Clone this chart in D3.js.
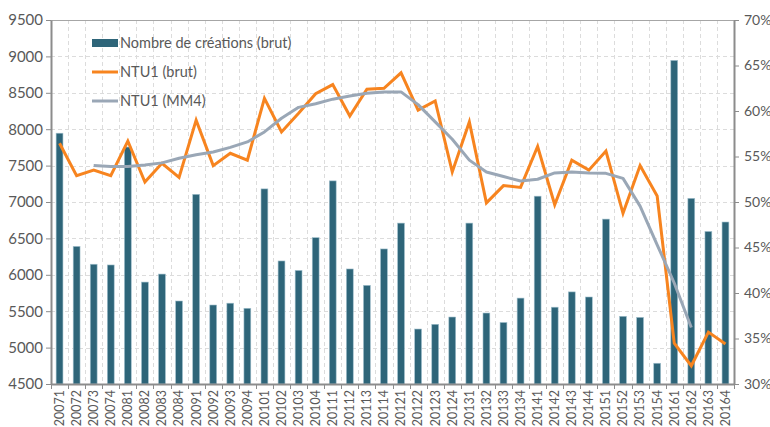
<!DOCTYPE html>
<html>
<head>
<meta charset="utf-8">
<script src="https://cdn.jsdelivr.net/npm/d3@7"></script>
<style>
    body { margin: 0; background: #ffffff; }
    svg { display: block; }
</style>
</head>
<body>
<svg id="chart" width="770" height="427"></svg>
<script>

const quarters = ["20071", "20072", "20073", "20074", "20081", "20082", "20083", "20084",
    "20091", "20092", "20093", "20094", "20101", "20102", "20103", "20104",
    "20111", "20112", "20113", "20114", "20121", "20122", "20123", "20124",
    "20131", "20132", "20133", "20134", "20141", "20142", "20143", "20144",
    "20151", "20152", "20153", "20154", "20161", "20162", "20163", "20164"];

// Nombre de créations (brut)
const creations = [7945, 6390, 6145, 6135, 7755, 5900, 6010, 5640,
    7105, 5585, 5610, 5540, 7180, 6190, 6060, 6510,
    7290, 6080, 5855, 6355, 6710, 5255, 5320, 5420,
    6710, 5475, 5345, 5680, 7080, 5555, 5765, 5695,
    6765, 5430, 5415, 4785, 8945, 7050, 6595, 6725];

// NTU1 (brut), in %
const ntuBrut = [56.45, 52.9, 53.5, 52.9, 56.7, 52.2, 54.25, 52.7,
    59.0, 54.0, 55.35, 54.6, 61.4, 57.7, 59.75, 61.9,
    62.9, 59.45, 62.4, 62.5, 64.2, 60.1, 61.1, 53.3,
    58.8, 49.9, 51.8, 51.6, 56.1, 49.7, 54.6, 53.5,
    55.6, 48.75, 54.0, 50.65, 34.5, 32.0, 35.7, 34.4];

// NTU1 (MM4), centred average: from 20073 to 20162
const ntuMM4Quarters = quarters.slice(2, 38);
const ntuMM4 = [54.0, 53.9, 53.9, 54.07, 54.3, 54.8, 55.2, 55.5,
    56.0, 56.6, 57.7, 59.2, 60.4, 60.8, 61.3, 61.65,
    61.95, 62.1, 62.1, 60.7, 58.8, 56.9, 54.6, 53.3,
    52.8, 52.3, 52.5, 53.2, 53.3, 53.2, 53.15, 52.6,
    49.55, 45.3, 41.1, 36.2];

const leftTicks = [4500, 5000, 5500, 6000, 6500, 7000, 7500, 8000, 8500, 9000, 9500];
const rightTicks = [30, 35, 40, 45, 50, 55, 60, 65, 70];

const legendItems = [
    {name: "Nombre de créations (brut)", type: "bar"},
    {name: "NTU1 (brut)", type: "brut"},
    {name: "NTU1 (MM4)", type: "mm4"}
];

const barColor = "#2e6579";
const orange = "#f7841f";
const grey = "#9aa7b6";
const axisColor = "#8c8c8c";
const textColor = "#595959";
const fontFamily = "Lato, 'Open Sans', sans-serif";

const plot = {left: 51, right: 734, top: 20, bottom: 384};

const svg = d3.select("#chart");

const x = d3.scaleBand()
    .domain(quarters)
    .range([plot.left, plot.right])
    .padding(0);

const yLeft = d3.scaleLinear()
    .domain([4500, 9500])
    .range([plot.bottom, plot.top]);

const yRight = d3.scaleLinear()
    .domain([30, 70])
    .range([plot.bottom, plot.top]);

const center = q => x(q) + x.bandwidth() / 2;

//grid lines
const grid = svg.append("g")
    .attr("stroke", "#dcdcdc")
    .attr("stroke-width", 1)
    .attr("stroke-dasharray", "4,3");

grid.selectAll("line.h")
    .data(leftTicks.slice(1, -1))
    .join("line")
    .attr("class", "h")
    .attr("x1", plot.left)
    .attr("x2", plot.right)
    .attr("y1", d => Math.round(yLeft(d)) + 0.5)
    .attr("y2", d => Math.round(yLeft(d)) + 0.5);

grid.selectAll("line.v")
    .data(quarters.slice(1))
    .join("line")
    .attr("class", "v")
    .attr("x1", d => Math.round(x(d)) + 0.5)
    .attr("x2", d => Math.round(x(d)) + 0.5)
    .attr("y1", plot.top)
    .attr("y2", plot.bottom);

// top border
svg.append("line")
    .attr("x1", plot.left)
    .attr("x2", plot.right)
    .attr("y1", plot.top + 0.5)
    .attr("y2", plot.top + 0.5)
    .attr("stroke", "#a6a6a6")
    .attr("stroke-width", 1);

//bars
const barWidth = x.bandwidth() * 0.4;

svg.append("g")
    .selectAll("rect")
    .data(quarters)
    .join("rect")
    .attr("x", d => center(d) - barWidth / 2)
    .attr("y", (d, i) => yLeft(creations[i]))
    .attr("width", barWidth)
    .attr("height", (d, i) => yLeft(4500) - yLeft(creations[i]))
    .attr("fill", barColor)
    .attr("stroke", "#9fbfcc")
    .attr("stroke-width", 0.6);

//lines
const valueLine = d3.line()
    .x(d => center(d.q))
    .y(d => yRight(d.v));

svg.append("path")
    .datum(quarters.map((q, i) => ({q: q, v: ntuBrut[i]})))
    .attr("d", valueLine)
    .attr("fill", "none")
    .attr("stroke", orange)
    .attr("stroke-width", 3)
    .attr("stroke-linejoin", "miter");

svg.append("path")
    .datum(ntuMM4Quarters.map((q, i) => ({q: q, v: ntuMM4[i]})))
    .attr("d", valueLine)
    .attr("fill", "none")
    .attr("stroke", grey)
    .attr("stroke-width", 3)
    .attr("stroke-linejoin", "round");

//axes
const leftAxis = svg.append("g")
    .attr("transform", `translate(${plot.left},0)`)
    .call(d3.axisLeft(yLeft).tickValues(leftTicks).tickFormat(d3.format("d"))
        .tickSize(5).tickPadding(3).tickSizeOuter(0));

const rightAxis = svg.append("g")
    .attr("transform", `translate(${plot.right},0)`)
    .call(d3.axisRight(yRight).tickValues(rightTicks).tickSize(5).tickPadding(5)
        .tickFormat(d => d + "%").tickSizeOuter(0));

const bottomAxis = svg.append("g")
    .attr("transform", `translate(0,${plot.bottom})`)
    .call(d3.axisBottom(x).tickSize(0).tickSizeOuter(0));

// ticks between categories on the bottom axis
svg.append("g")
    .selectAll("line")
    .data(quarters.concat(["end"]))
    .join("line")
    .attr("x1", (d, i) => Math.round(plot.left + i * x.bandwidth()) + 0.5)
    .attr("x2", (d, i) => Math.round(plot.left + i * x.bandwidth()) + 0.5)
    .attr("y1", plot.bottom)
    .attr("y2", plot.bottom + 5)
    .attr("stroke", axisColor)
    .attr("stroke-width", 1);

[leftAxis, rightAxis, bottomAxis].forEach(g => {
    g.select(".domain").attr("stroke", axisColor).attr("stroke-width", 2);
    g.selectAll(".tick line").attr("stroke", axisColor);
    g.selectAll("text")
        .attr("fill", textColor)
        .attr("font-family", fontFamily);
});

leftAxis.selectAll("text").attr("font-size", 15);
rightAxis.selectAll("text").attr("font-size", 14);

bottomAxis.selectAll("text")
    .attr("font-size", 12.5)
    .attr("transform", "rotate(-90)")
    .attr("text-anchor", "end")
    .attr("x", -6)
    .attr("y", 0)
    .attr("dy", "0.35em");

//legend
const legend = svg.append("g")
    .attr("transform", "translate(92,0)");

const legendRow = legend.selectAll("g")
    .data(legendItems)
    .join("g")
    .attr("transform", (d, i) => `translate(0,${43 + i * 29})`);

legendRow.filter(d => d.type === "bar")
    .append("rect")
    .attr("x", 0)
    .attr("y", -4)
    .attr("width", 26)
    .attr("height", 8)
    .attr("fill", barColor);

legendRow.filter(d => d.type !== "bar")
    .append("line")
    .attr("x1", 0)
    .attr("x2", 26)
    .attr("y1", 0)
    .attr("y2", 0)
    .attr("stroke", d => d.type === "brut" ? orange : grey)
    .attr("stroke-width", 3);

legendRow.append("text")
    .attr("x", 28)
    .attr("y", 0)
    .attr("dy", "0.35em")
    .attr("fill", textColor)
    .attr("font-family", fontFamily)
    .attr("font-size", 14.5)
    .text(d => d.name);

</script>
</body>
</html>
